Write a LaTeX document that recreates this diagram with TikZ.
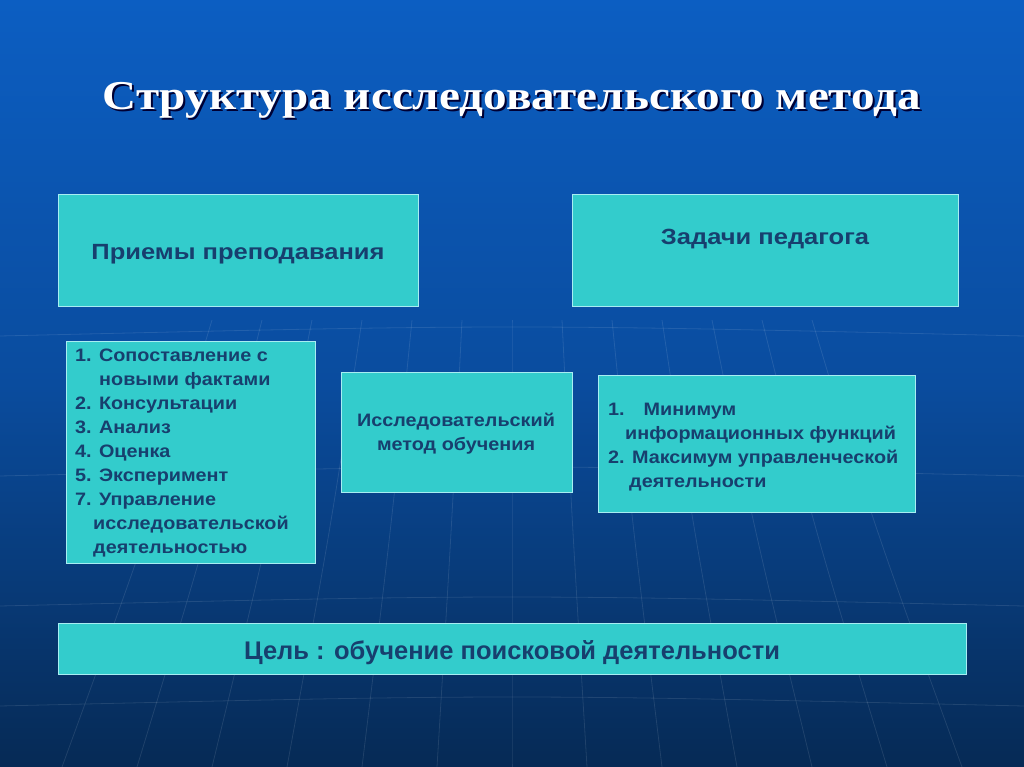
\documentclass[tikz,border=0pt]{standalone}
\usepackage{fontspec}
\setmainfont{Liberation Sans}
\newfontfamily\titlefont[FakeStretch=1.15]{Liberation Serif}
\newfontfamily\wideA[FakeStretch=1.16]{Liberation Sans}
\newfontfamily\wideB[FakeStretch=1.1]{Liberation Sans}
\usetikzlibrary{shadings}
\definecolor{boxfill}{HTML}{33CCCC}
\definecolor{boxline}{HTML}{A8EEF2}
\definecolor{boxtext}{HTML}{173F6E}
\definecolor{bgtop}{HTML}{0C5EC2}
\definecolor{bgmid}{HTML}{0A4C9E}
\definecolor{bgbot}{HTML}{062A55}
\tikzset{
  card/.style={draw=boxline, line width=1pt, fill=boxfill},
  cardtext/.style={text=boxtext, font=\wideB\bfseries\fontsize{18}{24}\selectfont, inner sep=0pt},
  headtext/.style={text=boxtext, font=\wideA\bfseries\fontsize{22}{26}\selectfont, inner sep=0pt},
  gridline/.style={draw=white, line width=0.8pt, opacity=0.10}
}
\begin{document}
\begin{tikzpicture}[x=1pt,y=-1pt]
\useasboundingbox (0,0) rectangle (1024,767);
\shade[top color=bgtop, bottom color=bgbot, middle color=bgmid] (0,0) rectangle (1024,767);
% faint globe grid
\foreach \i in {-6,...,6}{
  \draw[gridline] (512+\i*50,320) .. controls (512+\i*60,520) .. (512+\i*75,767);
}
\foreach \yy in {330,470,600,700}{
  \draw[gridline] (0,\yy+6) .. controls (512,\yy-6) .. (1024,\yy+6);
}
% title
\node[text=black!80!blue, font=\titlefont\bfseries\fontsize{41}{46}\selectfont] (titleshadow) at (514,102) {Структура исследовательского метода};
\node[text=white, font=\titlefont\bfseries\fontsize{41}{46}\selectfont] (title) at (512,100) {Структура исследовательского метода};
% boxes
\draw[card] (58,195) rectangle (418,306);
\node[headtext] (priemy) at (238,254) {Приемы преподавания};
\draw[card] (572,195) rectangle (958,306);
\node[headtext] (zadachi) at (765,239) {Задачи педагога};
\draw[card] (66,341) rectangle (315,563);
\node[cardtext, anchor=north west, align=left] (list) at (75,349) {1. Сопоставление с\\\hspace{24pt}новыми фактами\\2. Консультации\\3. Анализ\\4. Оценка\\5. Эксперимент\\7. Управление\\\hspace{18pt}исследовательской\\\hspace{18pt}деятельностью};
\draw[card] (341,372) rectangle (572,492);
\node[cardtext, align=center] (method) at (456,434) {Исследовательский\\метод обучения};
\draw[card] (598,375) rectangle (915,512);
\node[cardtext, anchor=north west, align=left] (tasks) at (608,403) {1.\hspace{19pt}Минимум\\\hspace{17pt}информационных функций\\2. Максимум управленческой\\\hspace{21pt}деятельности};
\draw[card] (58,623) rectangle (966,674);
\node[cardtext, font=\bfseries\fontsize{25.5}{28}\selectfont] (goal) at (512,653) {Цель : обучение поисковой деятельности};
\end{tikzpicture}
\end{document}
